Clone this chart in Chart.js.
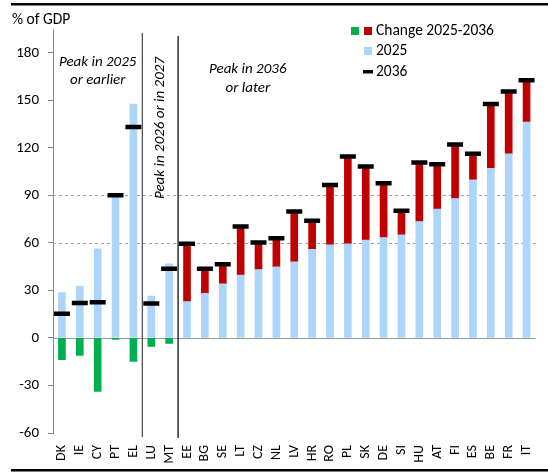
<!DOCTYPE html>
<html><head><meta charset="utf-8">
<script src="https://cdn.jsdelivr.net/npm/chart.js@4.4.1/dist/chart.umd.min.js"></script>
<style>html,body{margin:0;padding:0;background:#fff}#wrap{width:548px;height:472px;position:relative}</style>
</head><body><div id="wrap"><canvas id="c" width="548" height="472"></canvas></div>
<script>
const categories = ['DK','IE','CY','PT','EL','LU','MT','EE','BG','SE','LT','CZ','NL','LV','HR','RO','PL','SK','DE','SI','HU','AT','FI','ES','BE','FR','IT'];
const debt2025 = [28.6,32.8,56.2,90.8,147.6,26.5,46.7,23.0,28.2,34.1,39.6,43.2,44.9,48.0,56.0,58.7,59.4,61.7,63.4,65.1,73.5,81.3,88.0,99.8,107.0,116.2,136.3];
const change2025to2036 = [-13.7,-11.1,-33.8,-0.9,-14.8,-5.3,-3.4,36.4,15.4,12.4,30.7,17.0,18.1,31.8,17.9,37.9,55.1,46.5,34.3,15.2,37.3,28.4,34.1,16.4,40.6,39.4,26.4];
const debt2036 = [15.2,22.0,22.5,90.0,133.2,21.7,43.6,59.4,43.6,46.5,70.3,60.2,63.0,79.8,73.9,96.6,114.5,108.2,97.7,80.3,110.8,109.7,122.1,116.2,147.6,155.6,162.7];
const yTicks = [-60,-30,0,30,60,90,120,150,180];
const refLines = [60,90];
const groupLabels = ['Peak in 2025', 'or earlier', 'Peak in 2026 or in 2027', 'Peak in 2036', 'or later'];
const legendLabels = ['Change 2025-2036', '2025', '2036'];
const yTitle = '% of GDP';

const FONT = 'Carlito, Calibri, Lato, sans-serif';
const C_BLUE = '#ABD5FA', C_RED = '#C00000', C_GREEN = '#00B050';

const changeUp = change2025to2036.map(v => v > 0 ? v : null);
const changeDown = change2025to2036.map(v => v < 0 ? v : null);

const decor = {
  id: 'decor',
  beforeDatasetsDraw(chart) {
    const {ctx, chartArea: a, scales: {y}} = chart;
    ctx.save();
    ctx.strokeStyle = '#a0a0a0';
    ctx.lineWidth = 1;
    ctx.setLineDash([3, 3]);
    refLines.forEach(v => {
      const py = Math.round(y.getPixelForValue(v)) + 0.5;
      ctx.beginPath(); ctx.moveTo(a.left, py); ctx.lineTo(a.right, py); ctx.stroke();
    });
    ctx.setLineDash([]);
    ctx.strokeStyle = '#999';
    const p0 = Math.round(y.getPixelForValue(0)) + 0.5;
    ctx.beginPath(); ctx.moveTo(a.left, p0); ctx.lineTo(a.right, p0); ctx.stroke();
    ctx.restore();
  },
  afterDraw(chart) {
    const {ctx, chartArea: a, scales: {x, y}} = chart;
    ctx.save();
    ctx.fillStyle = '#000';
    ctx.fillRect(11, 3, 537, 2.5);
    ctx.fillRect(11, 469, 537, 2.5);
    const s1 = (x.getPixelForValue(4) + x.getPixelForValue(5)) / 2;
    const s2 = (x.getPixelForValue(6) + x.getPixelForValue(7)) / 2;
    ctx.lineWidth = 1.3;
    ctx.strokeStyle = '#555';
    ctx.beginPath(); ctx.moveTo(s1, 33); ctx.lineTo(s1, 437); ctx.stroke();
    ctx.strokeStyle = '#111';
    ctx.beginPath(); ctx.moveTo(s2, 36); ctx.lineTo(s2, 438); ctx.stroke();
    ctx.fillStyle = '#000';
    ctx.font = '15.5px ' + FONT;
    ctx.textBaseline = 'middle';
    ctx.textAlign = 'left';
    ctx.fillText(yTitle, 12, 20);
    ctx.font = 'italic 15px ' + FONT;
    ctx.textAlign = 'center';
    const g1 = (x.getPixelForValue(0) + x.getPixelForValue(4)) / 2;
    ctx.fillText(groupLabels[0], g1, 62);
    ctx.fillText(groupLabels[1], g1, 80);
    ctx.save();
    ctx.translate((s1 + s2) / 2, 128);
    ctx.rotate(-Math.PI / 2);
    ctx.fillText(groupLabels[2], 0, 0);
    ctx.restore();
    const g3 = x.getPixelForValue(10.4);
    ctx.fillText(groupLabels[3], g3, 69);
    ctx.fillText(groupLabels[4], g3, 88);
    ctx.font = '15.5px ' + FONT;
    ctx.textAlign = 'left';
    ctx.fillStyle = C_GREEN; ctx.fillRect(351, 27, 8, 8);
    ctx.fillStyle = C_RED; ctx.fillRect(364, 27, 8, 8);
    ctx.fillStyle = '#000'; ctx.fillText(legendLabels[0], 376, 31);
    ctx.fillStyle = C_BLUE; ctx.fillRect(364, 47, 8, 8);
    ctx.fillStyle = '#000'; ctx.fillText(legendLabels[1], 376, 51);
    ctx.fillRect(363, 70, 10, 3.5);
    ctx.fillText(legendLabels[2], 376, 72);
    ctx.restore();
  }
};

new Chart(document.getElementById('c'), {
  data: {
    labels: categories,
    datasets: [
      {type: 'bar', label: '2025', data: debt2025, backgroundColor: C_BLUE, stack: 'a', barThickness: 7, order: 1},
      {type: 'bar', label: 'Change up', data: changeUp, backgroundColor: C_RED, stack: 'a', barThickness: 7, order: 1},
      {type: 'bar', label: 'Change down', data: changeDown, backgroundColor: C_GREEN, stack: 'a', barThickness: 7, order: 1},
      {type: 'line', label: '2036', data: debt2036, stack: 'm', showLine: false, pointStyle: 'line',
       pointRadius: 8, pointHoverRadius: 8, borderColor: '#000', borderWidth: 4.5, backgroundColor: '#000', order: 0}
    ]
  },
  options: {
    responsive: false,
    animation: false,
    devicePixelRatio: 1,
    layout: {padding: {left: 0, right: 5, top: 29, bottom: 0}},
    plugins: {legend: {display: false}, tooltip: {enabled: false}, title: {display: false}},
    scales: {
      x: {
        stacked: true,
        grid: {display: false},
        border: {display: false},
        ticks: {minRotation: 90, maxRotation: 90, autoSkip: false, padding: 4, color: '#000', font: {family: FONT, size: 14}},
        afterFit: s => { s.height = 39; }
      },
      y: {
        stacked: true,
        min: -60, max: 195,
        grid: {drawOnChartArea: false, drawTicks: true, tickLength: 5, tickColor: '#888'},
        border: {display: true, color: '#888', width: 1},
        afterBuildTicks: s => { s.ticks = yTicks.map(v => ({value: v})); },
        ticks: {stepSize: 30, includeBounds: false, padding: 9, color: '#000', font: {family: FONT, size: 15}},
        afterFit: s => { s.width = 53; }
      }
    }
  },
  plugins: [decor]
});
</script></body></html>
